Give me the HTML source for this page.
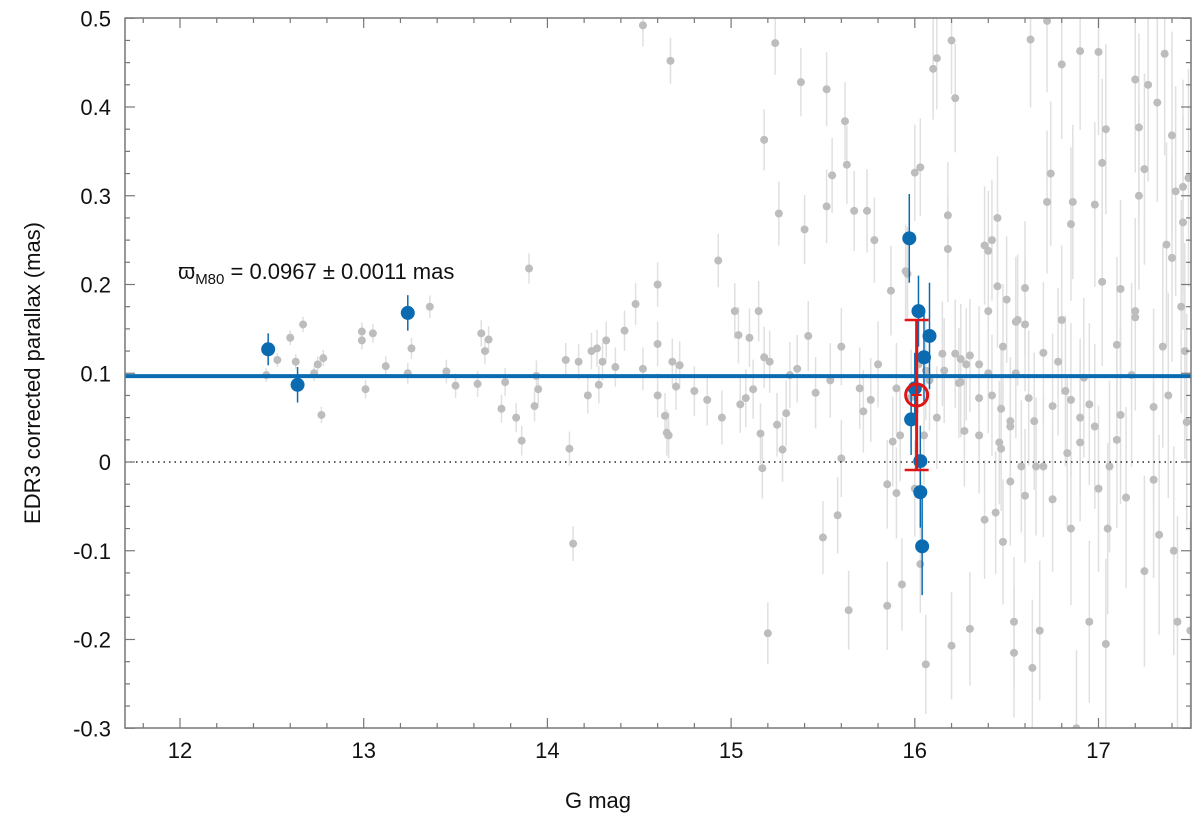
<!DOCTYPE html>
<html><head><meta charset="utf-8"><style>
body{margin:0;background:#fff;}
svg text{font-family:"Liberation Sans",Arial,sans-serif;fill:#111;}
</style></head><body>
<svg id="chart" width="1200" height="815" xmlns="http://www.w3.org/2000/svg">
<defs><clipPath id="clip"><rect x="125" y="18" width="1066" height="710"/></clipPath></defs>
<g id="grey" clip-path="url(#clip)"></g>
<line id="zero" stroke="#000" stroke-width="1.3" stroke-dasharray="1.5,4"/>
<line id="mean" stroke="#0a6bb0" stroke-width="4"/>
<g id="blue" clip-path="url(#clip)"></g>
<g id="red"></g>
<rect x="125" y="18" width="1066" height="710" fill="none" stroke="#777" stroke-width="1.5"/>
<g id="axes"></g>
<text x="178" y="279" font-size="22">ϖ<tspan font-size="15" dy="5">M80</tspan><tspan dy="-5"> = 0.0967 ± 0.0011 mas</tspan></text>
<text x="598" y="808" font-size="22" text-anchor="middle">G mag</text>
<text transform="translate(40,373) rotate(-90)" font-size="22" text-anchor="middle">EDR3 corrected parallax (mas)</text>
</svg>
<script>
const greyMag=[12.47,12.53,12.6,12.63,12.67,12.73,12.75,12.77,12.78,12.99,12.99,13.01,13.05,13.12,13.24,13.26,13.36,13.45,13.5,13.62,13.64,13.66,13.68,13.75,13.77,13.83,13.86,13.9,13.93,13.94,13.95,14.1,14.12,14.14,14.17,14.22,14.24,14.27,14.28,14.3,14.32,14.37,14.42,14.48,14.52,14.52,14.6,14.6,14.6,14.64,14.65,14.66,14.67,14.68,14.7,14.72,14.8,14.87,14.93,14.95,15.02,15.04,15.05,15.08,15.1,15.12,15.15,15.16,15.17,15.18,15.18,15.2,15.21,15.24,15.25,15.26,15.28,15.3,15.32,15.36,15.38,15.4,15.42,15.46,15.5,15.52,15.52,15.54,15.55,15.58,15.6,15.6,15.62,15.63,15.64,15.67,15.7,15.72,15.74,15.76,15.78,15.8,15.85,15.85,15.87,15.88,15.9,15.9,15.92,15.93,15.95,15.96,15.98,16.0,16.0,16.02,16.03,16.03,16.05,16.06,16.06,16.08,16.1,16.12,16.15,16.16,16.18,16.18,16.2,16.2,16.22,16.22,16.24,16.25,16.27,16.28,16.3,16.3,16.35,16.35,16.38,16.38,16.4,16.4,16.4,16.42,16.42,16.44,16.45,16.45,16.46,16.47,16.48,16.48,16.5,16.52,16.52,16.52,16.54,16.54,16.55,16.56,16.58,16.6,16.6,16.6,16.62,16.63,16.64,16.65,16.66,16.68,16.7,16.72,16.72,16.74,16.75,16.75,16.78,16.8,16.8,16.82,16.83,16.85,16.85,16.86,16.88,16.9,16.9,16.92,16.95,16.95,16.98,16.98,17.0,17.0,17.02,17.02,17.04,17.04,17.05,17.06,17.1,17.1,17.12,17.12,17.18,17.2,17.2,17.22,17.22,17.25,17.25,17.27,17.3,17.3,17.32,17.33,17.35,17.36,17.37,17.38,17.4,17.4,17.42,17.43,17.45,17.46,17.47,17.48,17.49,17.5,17.46,17.41,16.47,16.7,16.9,17.15,17.2,16.85,16.55,16.35,16.25,16.12];
const greyPlx=[0.098,0.115,0.14,0.113,0.155,0.1,0.11,0.053,0.117,0.147,0.137,0.082,0.145,0.108,0.1,0.128,0.175,0.102,0.086,0.088,0.145,0.125,0.138,0.06,0.09,0.05,0.024,0.218,0.063,0.097,0.082,0.115,0.015,-0.092,0.113,0.075,0.125,0.128,0.087,0.113,0.137,0.107,0.148,0.178,0.105,0.492,0.133,0.2,0.075,0.052,0.033,0.03,0.452,0.113,0.085,0.109,0.08,0.07,0.227,0.05,0.17,0.143,0.065,0.072,0.14,0.082,0.17,0.032,-0.007,0.363,0.118,-0.193,0.113,0.472,0.042,0.28,0.014,0.055,0.098,0.105,0.428,0.262,0.142,0.078,-0.085,0.288,0.42,0.092,0.323,-0.06,0.004,0.13,0.384,0.335,-0.167,0.283,0.083,0.057,0.283,0.07,0.25,0.11,-0.025,-0.162,0.193,0.023,0.083,-0.035,0.03,-0.138,0.215,0.212,0.073,0.326,-0.03,0.11,-0.115,0.332,0.03,0.103,-0.228,0.092,0.443,0.455,0.122,0.103,0.24,0.278,0.475,-0.207,0.41,0.122,0.089,0.116,0.035,0.11,-0.188,0.12,0.11,0.03,0.244,-0.065,0.238,0.17,0.1,0.25,0.075,-0.057,0.198,0.275,0.022,0.06,-0.09,0.13,0.183,0.046,-0.022,0.04,-0.18,-0.215,0.158,0.16,-0.005,-0.038,0.196,0.155,0.072,0.476,-0.232,0.046,-0.005,-0.19,0.123,0.293,0.497,0.325,0.063,-0.042,0.113,0.16,0.448,0.08,0.01,0.268,-0.075,0.293,-0.3,0.463,0.05,0.095,0.065,-0.18,0.29,0.04,0.462,-0.03,0.337,0.203,0.375,-0.205,-0.075,-0.005,0.132,0.025,0.053,0.195,0.098,0.163,0.431,0.3,0.377,0.33,-0.123,0.425,0.062,-0.02,0.405,-0.082,0.13,0.46,0.245,0.075,0.23,0.368,0.305,-0.18,0.175,0.31,0.125,0.045,0.32,-0.19,0.27,-0.1,0.015,-0.005,0.022,-0.04,0.17,0.07,0.1,0.072,0.09,0.05];
const blueMag=[12.48,12.64,13.24,15.97,16.02,16.08,16.05,15.98,16.0,16.03,16.03,16.04];
const bluePlx=[0.127,0.087,0.168,0.252,0.170,0.142,0.118,0.048,0.083,0.001,-0.034,-0.095];
const blueErr=[0.018,0.02,0.02,0.05,0.04,0.06,0.05,0.04,0.04,0.04,0.04,0.055];
const meanPlx=0.0967;
const redMag=[16.01], redPlx=[0.0755], redErr=[0.0845];
const xTicks=[12,13,14,15,16,17];
const yTicks=[-0.3,-0.2,-0.1,0,0.1,0.2,0.3,0.4,0.5];

const NS="http://www.w3.org/2000/svg";
const X=m=>180+(m-12)*183.7;
const Y=p=>462-p*887.5;
const L=125,R=1191,T=18,B=728;
function mk(tag,attrs,parent){const e=document.createElementNS(NS,tag);for(const k in attrs)e.setAttribute(k,attrs[k]);parent.appendChild(e);return e;}
const grey=document.getElementById('grey');
greyMag.forEach((m,i)=>{
  const e=0.006*Math.exp((m-12)*0.55);
  const l=mk('line',{x1:X(m),x2:X(m),y1:Y(greyPlx[i]+e),y2:Y(greyPlx[i]-e),stroke:'#e0e0e0','stroke-width':1.5},grey);
  
  
});
greyMag.forEach((m,i)=>{
  const c=mk('circle',{cx:X(m),cy:Y(greyPlx[i]),r:4,fill:'#bdbdbd'},grey);
  
  
});
const z=document.getElementById('zero');z.setAttribute('x1',L);z.setAttribute('x2',R);z.setAttribute('y1',Y(0));z.setAttribute('y2',Y(0));
const mn=document.getElementById('mean');mn.setAttribute('x1',L);mn.setAttribute('x2',R);mn.setAttribute('y1',Y(meanPlx));mn.setAttribute('y2',Y(meanPlx));
const blue=document.getElementById('blue');
blueMag.forEach((m,i)=>{
  const l=mk('line',{x1:X(m),x2:X(m),y1:Y(bluePlx[i]+blueErr[i]),y2:Y(bluePlx[i]-blueErr[i]),stroke:'#0a6bb0','stroke-width':1.5},blue);
  
  
  const c=mk('circle',{cx:X(m),cy:Y(bluePlx[i]),r:7,fill:'#0a6bb0'},blue);
  
  
});
const red=document.getElementById('red');
redMag.forEach((m,i)=>{
  const x=X(m),y0=Y(redPlx[i]+redErr[i]),y1=Y(redPlx[i]-redErr[i]);
  mk('line',{x1:x,x2:x,y1:y0,y2:y1,stroke:'#e01515','stroke-width':3},red);
  mk('line',{x1:x-12,x2:x+12,y1:y0,y2:y0,stroke:'#e01515','stroke-width':2.5},red);
  mk('line',{x1:x-12,x2:x+12,y1:y1,y2:y1,stroke:'#e01515','stroke-width':2.5},red);
  mk('line',{x1:x-5,x2:x+5,y1:Y(redPlx[i]),y2:Y(redPlx[i]),stroke:'#e01515','stroke-width':2},red);
  mk('circle',{cx:x,cy:Y(redPlx[i]),r:11,fill:'none',stroke:'#e01515','stroke-width':3},red);
});
const ax=document.getElementById('axes');
for(let m=11.8;m<=17.5;m+=0.2){const mm=Math.round(m*10)/10;const major=Math.abs(mm-Math.round(mm))<0.01;
  mk('line',{x1:X(mm),x2:X(mm),y1:B,y2:B-(major?10:5),stroke:'#777','stroke-width':1.2},ax);
  mk('line',{x1:X(mm),x2:X(mm),y1:T,y2:T+(major?10:5),stroke:'#777','stroke-width':1.2},ax);}
for(let k=-12;k<=20;k++){const p=k*0.025;const major=k%4===0;
  mk('line',{x1:L,x2:L+(major?10:5),y1:Y(p),y2:Y(p),stroke:'#777','stroke-width':1.2},ax);
  mk('line',{x1:R,x2:R-(major?10:5),y1:Y(p),y2:Y(p),stroke:'#777','stroke-width':1.2},ax);}
xTicks.forEach(t=>{const e=mk('text',{x:X(t),y:758,'font-size':22,'text-anchor':'middle'},ax);e.textContent=t;
  });
yTicks.forEach(t=>{const e=mk('text',{x:111,y:Y(t)+8,'font-size':22,'text-anchor':'end'},ax);e.textContent=(t===0?'0':String(t).replace(/^(-?)0\./,'$10.'));
  });
</script>
</body></html>
